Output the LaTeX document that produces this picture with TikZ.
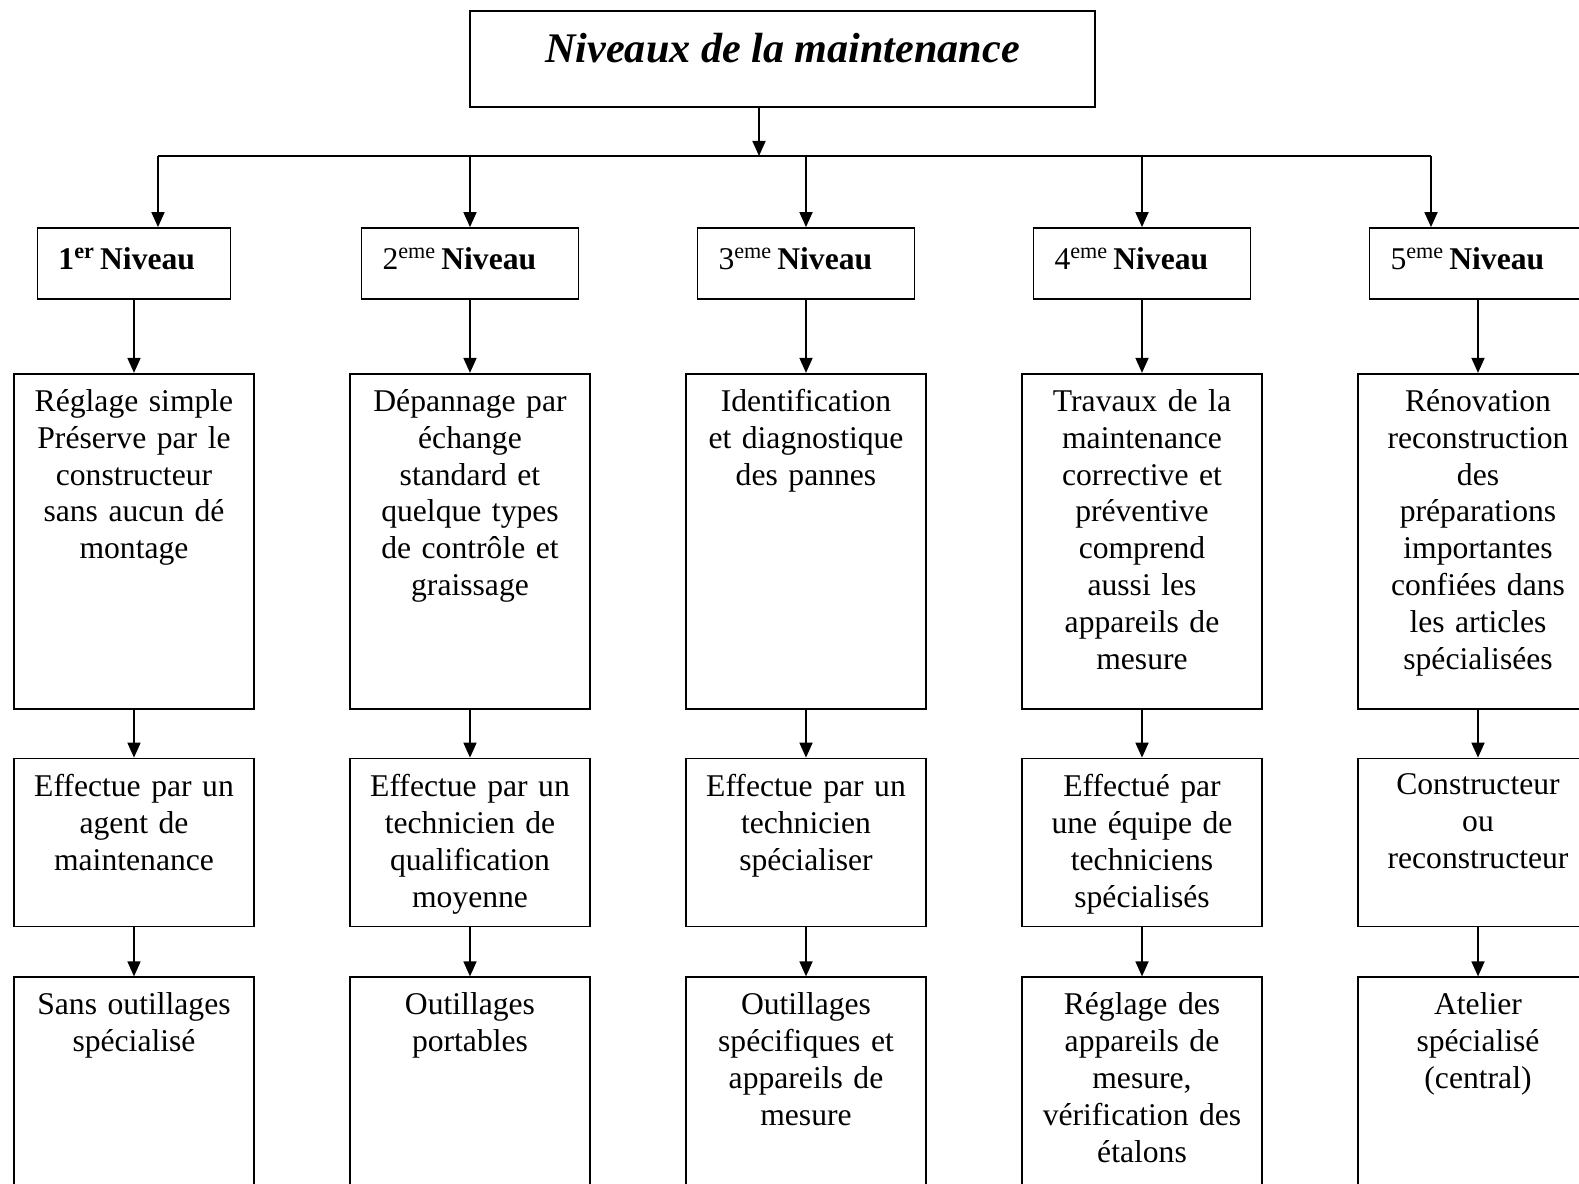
\documentclass[tikz,border=0pt]{standalone}
\usepackage{fontspec}
\setmainfont{Liberation Serif}
\usetikzlibrary{arrows.meta, positioning}

\begin{document}
\begin{tikzpicture}[
			node distance=1.46cm,
			titlebox/.style={rectangle, draw, minimum width=12.5cm, minimum height=1.92cm},
			level/.style={rectangle, draw, minimum height=1.42cm},
			leveltext/.style={anchor=west, inner sep=0pt, font=\fontsize{18}{21}\selectfont},
			cell/.style={rectangle, draw, minimum width=4.8cm},
			celltext/.style={anchor=north, inner sep=0pt, text width=4.6cm, align=center, font=\fontsize{18}{21}\selectfont},
			arrow/.style={-{Triangle[length=3mm, width=2.6mm]}},
			line width=1pt
		]
		\useasboundingbox (0,0) rectangle (31.58,-23.68);
		
		% Title
		\node[titlebox] (titre) at (15.65,-1.18) {};
		\node[anchor=north, inner sep=0pt, font=\fontsize{24}{28}\selectfont\bfseries\itshape] (titretxt) at ([yshift=-0.44cm]titre.north) {Niveaux de la maintenance};
		
		% Levels
		\node[level, minimum width=3.86cm] (n1) at (2.68,-5.27) {};
		\node[leveltext] (n1t) at ([xshift=0.42cm, yshift=0.1cm]n1.west) {\textbf{1\textsuperscript{er}\,Niveau}};
		\node[level, minimum width=4.34cm] (n2) at (9.4,-5.27) {};
		\node[leveltext] (n2t) at ([xshift=0.42cm, yshift=0.1cm]n2.west) {2\textsuperscript{eme}\,\textbf{Niveau}};
		\node[level, minimum width=4.34cm] (n3) at (16.12,-5.27) {};
		\node[leveltext] (n3t) at ([xshift=0.42cm, yshift=0.1cm]n3.west) {3\textsuperscript{eme}\,\textbf{Niveau}};
		\node[level, minimum width=4.34cm] (n4) at (22.84,-5.27) {};
		\node[leveltext] (n4t) at ([xshift=0.42cm, yshift=0.1cm]n4.west) {4\textsuperscript{eme}\,\textbf{Niveau}};
		\node[level, minimum width=4.34cm] (n5) at (29.56,-5.27) {};
		\node[leveltext] (n5t) at ([xshift=0.42cm, yshift=0.1cm]n5.west) {5\textsuperscript{eme}\,\textbf{Niveau}};
		
		% Distribution line
		\coordinate (bus) at (15.18,-3.12);
		\coordinate (b1) at (3.16,-3.12);
		\coordinate (b5) at (28.62,-3.12);
		\draw[arrow] (titre.south -| bus) -- (bus);
		\draw (b1) -- (b5);
		\draw[arrow] (b1) -- (b1 |- n1.north);
		\draw[arrow] (n2.north |- bus) -- (n2.north);
		\draw[arrow] (n3.north |- bus) -- (n3.north);
		\draw[arrow] (n4.north |- bus) -- (n4.north);
		\draw[arrow] (b5) -- (b5 |- n5.north);
		
		% Tasks
		\node[cell, minimum height=6.7cm, below=of n1] (c1) {};
		\node[celltext] (c1t) at ([yshift=-0.31cm]c1.north) {Réglage simple\\Préserve par le\\constructeur\\sans aucun dé\\montage};
		\node[cell, minimum height=6.7cm, below=of n2] (c2) {};
		\node[celltext] (c2t) at ([yshift=-0.31cm]c2.north) {Dépannage par\\échange\\standard et\\quelque types\\de contrôle et\\graissage};
		\node[cell, minimum height=6.7cm, below=of n3] (c3) {};
		\node[celltext] (c3t) at ([yshift=-0.31cm]c3.north) {Identification\\et diagnostique\\des pannes};
		\node[cell, minimum height=6.7cm, below=of n4] (c4) {};
		\node[celltext] (c4t) at ([yshift=-0.31cm]c4.north) {Travaux de la\\maintenance\\corrective et\\préventive\\comprend\\aussi les\\appareils de\\mesure};
		\node[cell, minimum height=6.7cm, below=of n5] (c5) {};
		\node[celltext] (c5t) at ([yshift=-0.31cm]c5.north) {Rénovation\\reconstruction\\des\\préparations\\importantes\\confiées dans\\les articles\\spécialisées};
		
		% Staff
		\node[cell, minimum height=3.36cm, below=0.96cm of c1] (e1) {};
		\node[celltext] (e1t) at ([yshift=-0.31cm]e1.north) {Effectue par un\\agent de\\maintenance};
		\node[cell, minimum height=3.36cm, below=0.96cm of c2] (e2) {};
		\node[celltext] (e2t) at ([yshift=-0.31cm]e2.north) {Effectue par un\\technicien de\\qualification\\moyenne};
		\node[cell, minimum height=3.36cm, below=0.96cm of c3] (e3) {};
		\node[celltext] (e3t) at ([yshift=-0.31cm]e3.north) {Effectue par un\\technicien\\spécialiser};
		\node[cell, minimum height=3.36cm, below=0.96cm of c4] (e4) {};
		\node[celltext] (e4t) at ([yshift=-0.31cm]e4.north) {Effectué par\\une équipe de\\techniciens\\spécialisés};
		\node[cell, minimum height=3.36cm, below=0.96cm of c5] (e5) {};
		\node[celltext] (e5t) at ([yshift=-0.31cm]e5.north) {Constructeur\\ou\\reconstructeur};
		
		% Tools
		\node[cell, minimum height=6.4cm, below=0.98cm of e1] (o1) {};
		\node[celltext] (o1t) at ([yshift=-0.31cm]o1.north) {Sans outillages\\spécialisé};
		\node[cell, minimum height=6.4cm, below=0.98cm of e2] (o2) {};
		\node[celltext] (o2t) at ([yshift=-0.31cm]o2.north) {Outillages\\portables};
		\node[cell, minimum height=6.4cm, below=0.98cm of e3] (o3) {};
		\node[celltext] (o3t) at ([yshift=-0.31cm]o3.north) {Outillages\\spécifiques et\\appareils de\\mesure};
		\node[cell, minimum height=6.4cm, below=0.98cm of e4] (o4) {};
		\node[celltext] (o4t) at ([yshift=-0.31cm]o4.north) {Réglage des\\appareils de\\mesure,\\vérification des\\étalons};
		\node[cell, minimum height=6.4cm, below=0.98cm of e5] (o5) {};
		\node[celltext] (o5t) at ([yshift=-0.31cm]o5.north) {Atelier\\spécialisé\\(central)};
		
		% Arrows
		\draw[arrow] (n1) -- (c1);
		\draw[arrow] (n2) -- (c2);
		\draw[arrow] (n3) -- (c3);
		\draw[arrow] (n4) -- (c4);
		\draw[arrow] (n5) -- (c5);
		\draw[arrow] (c1) -- (e1);
		\draw[arrow] (c2) -- (e2);
		\draw[arrow] (c3) -- (e3);
		\draw[arrow] (c4) -- (e4);
		\draw[arrow] (c5) -- (e5);
		\draw[arrow] (e1) -- (o1);
		\draw[arrow] (e2) -- (o2);
		\draw[arrow] (e3) -- (o3);
		\draw[arrow] (e4) -- (o4);
		\draw[arrow] (e5) -- (o5);
		\end{tikzpicture}
\end{document}
